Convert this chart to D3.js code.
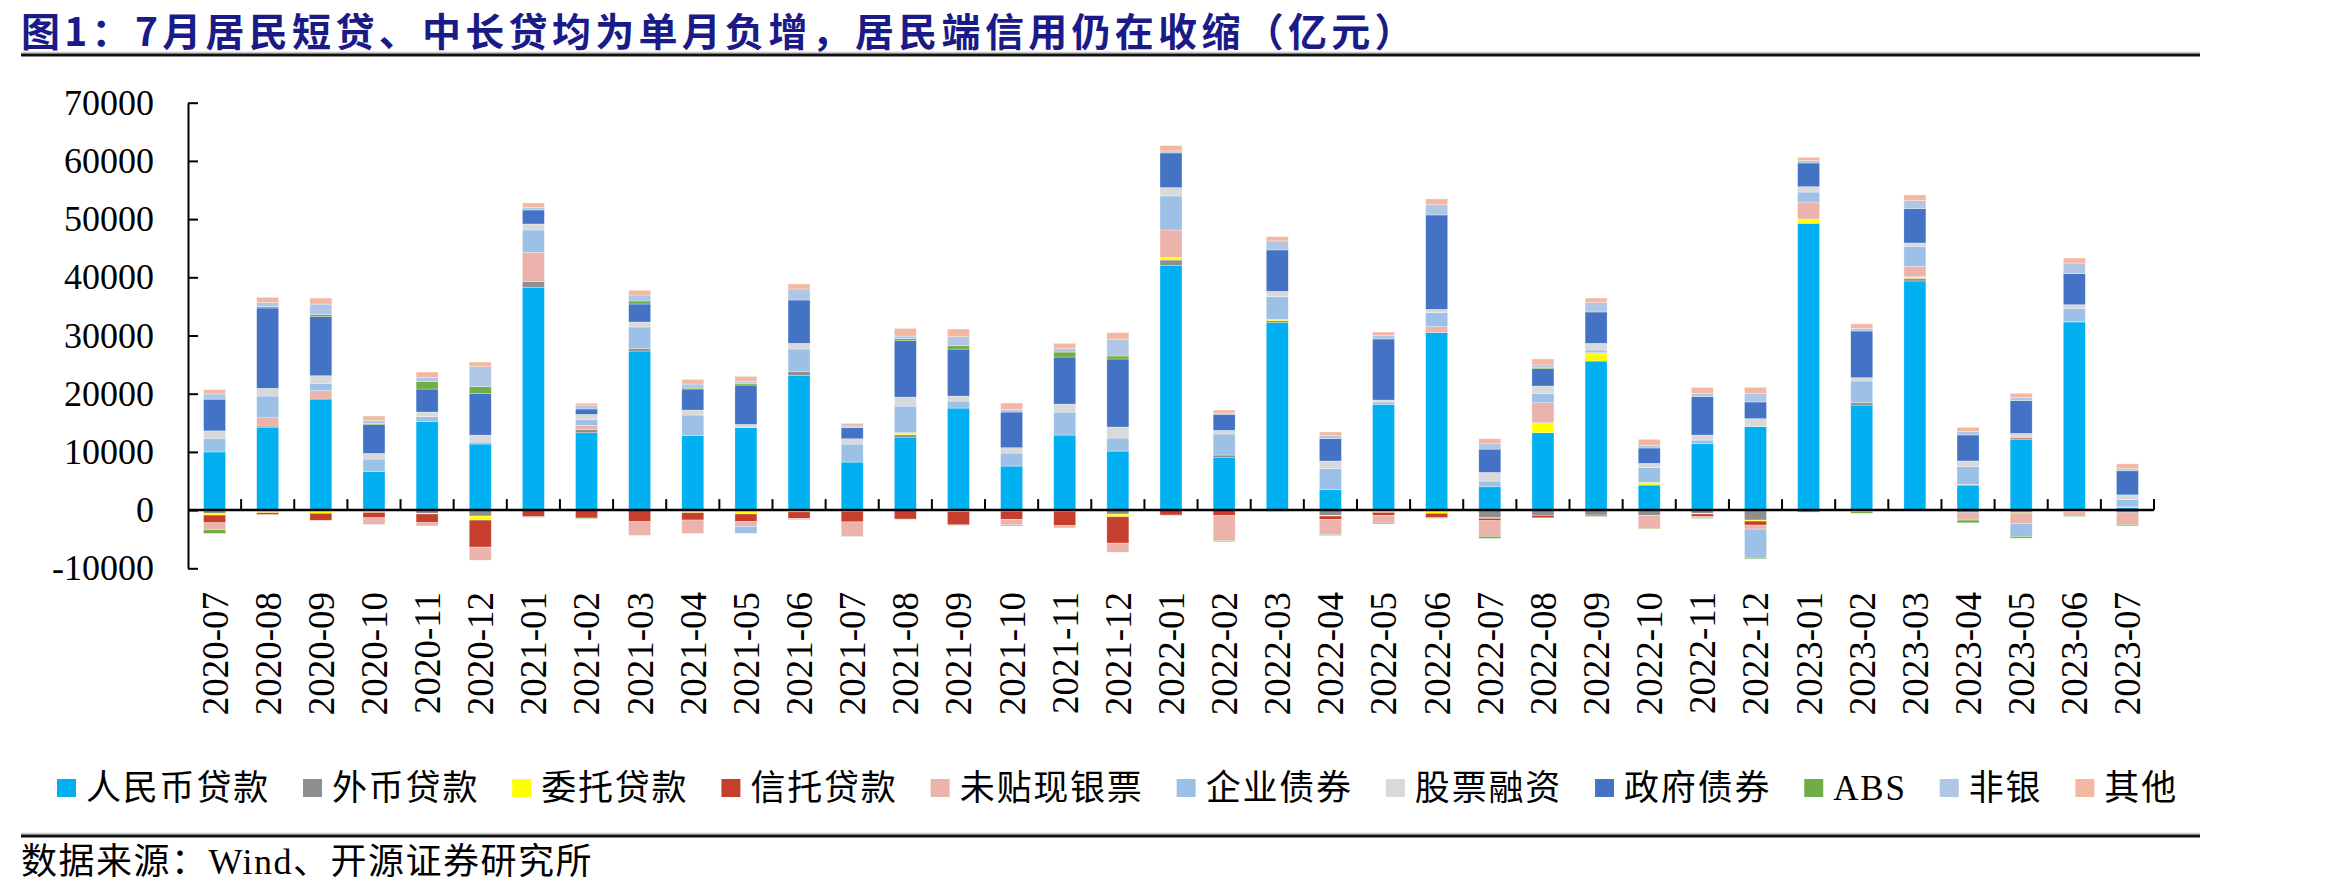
<!DOCTYPE html>
<html lang="zh">
<head>
<meta charset="UTF-8">
<title>居民端信用仍在收缩</title>
<script src="https://d3js.org/d3.v7.min.js"></script>
<style>
  body { margin: 0; background: #fff; }
  text { font-family: "Liberation Serif", "Noto Sans CJK SC", serif; fill: #000; }
  text.title { font-family: "Noto Sans CJK SC", sans-serif; font-weight: bold; fill: #1b1b87; font-size: 39px; letter-spacing: 4.3px; }
  text.tick { font-size: 36px; }
  text.month { font-size: 37px; }
  text.legend { font-size: 35px; letter-spacing: 1.8px; }
  text.source { font-size: 36px; letter-spacing: 1.5px; }
</style>
</head>
<body>
<svg width="2327" height="895"></svg>
<script>
// months on the x axis
const months = ["2020-07","2020-08","2020-09","2020-10","2020-11","2020-12",
  "2021-01","2021-02","2021-03","2021-04","2021-05","2021-06","2021-07","2021-08","2021-09","2021-10","2021-11","2021-12",
  "2022-01","2022-02","2022-03","2022-04","2022-05","2022-06","2022-07","2022-08","2022-09","2022-10","2022-11","2022-12",
  "2023-01","2023-02","2023-03","2023-04","2023-05","2023-06","2023-07"];

// 亿元
const rmbLoan  = [10000,14150,19080,6590,15190,11350,38220,13290,27330,12780,14150,23090,8250,12550,17530,7560,12890,10140,42000,9000,32200,3500,18110,30480,4010,13290,25610,4300,11400,14330,49220,18050,39370,4300,12150,32320,460];
const fxLoan   = [-570,290,-150,-100,-570,-1030,1030,520,400,-150,-100,690,-100,400,-150,-100,-100,-690,970,460,340,-920,-200,-150,-1320,-920,-860,-920,-570,-1720,100,460,460,-460,-460,-150,-460];
const entrust  = [-290,-460,-400,-300,-100,-690,-100,-100,-100,-300,-570,-300,-100,340,-100,-100,-100,-460,460,-100,230,-100,-200,-400,-100,1720,1430,460,-100,-170,690,-100,230,50,-50,-150,50];
const trust    = [-1320,-290,-1200,-920,-1490,-4640,-1030,-1260,-1890,-1260,-1320,-1150,-1830,-1550,-2290,-1380,-2460,-4530,-860,-860,-100,-570,-520,-750,-400,-400,-170,-50,-460,-690,-50,-50,50,80,230,50,50];
const bill     = [-1200,1430,1430,-1150,-570,-2240,5040,750,-2350,-2290,-800,-100,-2520,-50,-100,-970,-400,-1550,4700,-4300,-100,-2640,-1320,1030,-2690,3440,-50,-2180,-200,-690,2920,-100,1780,-1260,-1830,-750,-2010];
const corpBond = [2350,3730,1260,2180,860,340,3840,1030,3730,3550,-1200,3900,3090,4580,1200,2240,3950,2240,5850,3610,3900,3610,460,2410,970,1550,460,2520,630,-4990,1720,3670,3440,3040,-2180,2290,1260];
const equity   = [1260,1320,1320,970,800,1200,1030,860,860,860,570,970,920,1550,860,920,1380,1890,1430,630,920,1320,340,570,1490,1320,1150,750,860,1380,920,570,570,970,800,630,800];
const govBond  = [5450,13810,10140,4930,3950,7110,2410,920,3090,3610,6760,7450,1890,9680,8080,6130,8080,11690,5960,2750,7110,3840,10490,16220,4010,2980,5390,2640,6590,2870,4070,8020,5900,4470,5620,5330,4130];
const abs      = [-630,230,340,170,1260,1200,-100,-100,520,170,230,-100,-50,340,570,-150,860,520,-50,-150,-50,-120,-150,-100,-340,230,-100,-100,-100,-150,-300,-300,-50,-460,-290,-100,-230];
const nonBank  = [900,690,1830,570,690,3440,400,570,1030,690,400,1890,290,460,1550,460,570,2810,340,230,1550,520,570,1780,920,400,1600,400,570,1490,400,460,1380,570,520,1830,400];
const others   = [750,920,1030,750,970,800,800,400,800,800,860,860,460,1320,1320,1090,920,1200,920,520,750,630,630,970,860,1030,800,1090,1030,1030,570,750,970,750,750,860,800];

const seriesNames = ["人民币贷款","外币贷款","委托贷款","信托贷款","未贴现银票","企业债券","股票融资","政府债券","ABS","非银","其他"];
const seriesData = [rmbLoan, fxLoan, entrust, trust, bill, corpBond, equity, govBond, abs, nonBank, others];
const seriesColors = ["#00b0f0","#8f8f8f","#ffff00","#c63f2e","#ebb3ac","#9dc0e6","#d9d9d9","#4472c4","#70ad47","#afc7e5","#f4b8a2"];
const yTicks = [-10000,0,10000,20000,30000,40000,50000,60000,70000];

const svg = d3.select("svg");

const rows = months.map((m, i) => {
  const r = {month: m};
  seriesNames.forEach((s, k) => r[s] = seriesData[k][i]);
  return r;
});
const layers = d3.stack().keys(seriesNames).offset(d3.stackOffsetDiverging)(rows);

const x = d3.scaleBand().domain(months).range([188, 2154]);
const y = d3.scaleLinear().domain([-10000, 70000]).range([568.3, 102.7]);
const barW = x.bandwidth() * 0.414;

// title + rules
svg.append("text").attr("class", "title").attr("x", 21).attr("y", 46)
  .text("图1：7月居民短贷、中长贷均为单月负增，居民端信用仍在收缩（亿元）");
svg.append("line").attr("x1", 21).attr("x2", 2200).attr("y1", 52.5).attr("y2", 52.5)
  .attr("stroke", "#c8c8c8").attr("stroke-width", 1.5);
svg.append("line").attr("x1", 21).attr("x2", 2200).attr("y1", 55).attr("y2", 55)
  .attr("stroke", "#111").attr("stroke-width", 3);

// bars
svg.append("g").selectAll("g").data(layers).join("g")
    .attr("fill", (d, i) => seriesColors[i])
  .selectAll("rect").data(d => d).join("rect")
    .attr("x", d => x(d.data.month) + (x.bandwidth() - barW) / 2)
    .attr("y", d => y(Math.max(d[0], d[1])))
    .attr("width", barW)
    .attr("height", d => Math.abs(y(d[0]) - y(d[1])))
    .attr("stroke", "#fff").attr("stroke-width", 0.6).attr("stroke-opacity", 0.5);

// y axis
const yAxis = svg.append("g").attr("transform", `translate(${x.range()[0]},0)`)
  .call(d3.axisLeft(y).tickValues(yTicks).tickSizeInner(-10).tickSizeOuter(0)
    .tickPadding(34).tickFormat(d => String(d)));
yAxis.select(".domain").attr("stroke", "#000").attr("stroke-width", 2);
yAxis.selectAll(".tick line").attr("stroke", "#000").attr("stroke-width", 2);
yAxis.selectAll(".tick text").attr("class", "tick").attr("font-family", null).attr("font-size", null);

// x axis on the zero line, ticks between months
const xAxis = svg.append("g");
xAxis.append("line").attr("x1", x.range()[0]).attr("x2", x.range()[1])
  .attr("y1", y(0)).attr("y2", y(0)).attr("stroke", "#000").attr("stroke-width", 2.5);
xAxis.selectAll("line.tk").data(months).join("line").attr("class", "tk")
  .attr("x1", d => x(d) + x.step()).attr("x2", d => x(d) + x.step())
  .attr("y1", y(0)).attr("y2", y(0) - 11)
  .attr("stroke", "#000").attr("stroke-width", 2);
xAxis.selectAll("text").data(months).join("text").attr("class", "month")
  .attr("transform", d => `translate(${x(d) + x.bandwidth() / 2},592) rotate(-90)`)
  .attr("text-anchor", "end").attr("dy", "0.35em")
  .text(d => d);

// legend
const legend = svg.append("g").attr("transform", "translate(57,779)");
let lx = 0;
seriesNames.forEach((name, i) => {
  const item = legend.append("g").attr("transform", `translate(${lx},0)`);
  item.append("rect").attr("width", 19).attr("height", 18).attr("fill", seriesColors[i]);
  const t = item.append("text").attr("class", "legend").attr("x", 29).attr("y", 9)
    .attr("dominant-baseline", "central").text(name);
  lx += 29 + t.node().getComputedTextLength() + 33;
});

// source
svg.append("line").attr("x1", 21).attr("x2", 2200).attr("y1", 833.5).attr("y2", 833.5)
  .attr("stroke", "#c8c8c8").attr("stroke-width", 1.5);
svg.append("line").attr("x1", 21).attr("x2", 2200).attr("y1", 836).attr("y2", 836)
  .attr("stroke", "#111").attr("stroke-width", 3);
svg.append("text").attr("class", "source").attr("x", 21).attr("y", 862)
  .attr("dominant-baseline", "central").text("数据来源：Wind、开源证券研究所");
</script>
</body>
</html>
